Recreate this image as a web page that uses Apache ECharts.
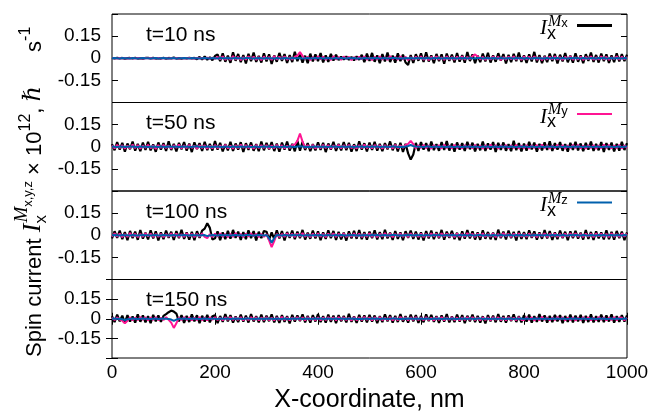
<!DOCTYPE html>
<html><head><meta charset="utf-8">
<script src="https://cdn.jsdelivr.net/npm/echarts@6/dist/echarts.min.js"></script>
<style>html,body{margin:0;padding:0;background:#fff}#c{width:655px;height:414px}</style>
</head><body><div id="c"></div>
<script>
// x-coordinate samples (nm)
const X = [0,5,10,15,20,25,30,35,40,45,50,55,60,65,70,75,80,85,90,95,
100,105,110,115,120,125,130,135,140,145,150,155,160,165,170,175,180,185,190,195,
200,205,210,215,220,225,230,235,240,245,250,255,260,265,270,275,280,285,290,295,
300,305,310,315,320,325,330,335,340,345,350,355,360,365,370,375,380,385,390,395,
400,405,410,415,420,425,430,435,440,445,450,455,460,465,470,475,480,485,490,495,
500,505,510,515,520,525,530,535,540,545,550,555,560,565,570,575,580,585,590,595,
600,605,610,615,620,625,630,635,640,645,650,655,660,665,670,675,680,685,690,695,
700,705,710,715,720,725,730,735,740,745,750,755,760,765,770,775,780,785,790,795,
800,805,810,815,820,825,830,835,840,845,850,855,860,865,870,875,880,885,890,895,
900,905,910,915,920,925,930,935,940,945,950,955,960,965,970,975,980,985,990,995,1000];

const panelLabels = ['t=10 ns','t=50 ns','t=100 ns','t=150 ns'];
const seriesNames = ['Mx','My','Mz'];
const legendSubs = ['x','y','z'];
const xTicks = [0,200,400,600,800,1000];
const yTicks = [-0.15,0,0.15];

// ---- t = 10 ns ----
const B1 = [.002,-.002,.003,-.001,.002,-.003,.001,.002,-.002,.003,-.002,.001,-.003,.002,.002,-.001,.003,-.002,.001,-.002,.003,-.003,.002,-.001,.004,-.002,.001,-.003,.002,-.002,.003,-.001,.002,
-.006,.009,-.008,.012,-.01,.007,-.013,.015,
.026,-.019,.034,-.024,.018,-.031,.041,-.017,.029,-.027,.022,-.035,.03,-.02,.038,-.025,.016,-.029,.033,-.021,.027,-.038,.019,-.024,.036,-.018,.028,-.032,.021,-.026,.044,-.02,.025,-.03,.017,-.034,.031,-.022,.026,-.019,.035,-.028,.02,-.025,.03,-.016,.024,
-.012,.01,-.008,.013,-.011,.009,-.014,.012,-.01,
.023,-.027,.031,-.018,.036,-.024,.02,-.033,.028,-.021,.039,-.026,.017,-.03,.034,-.019,.025,-.029,-.045,.022,
-.031,.027,-.017,.033,-.025,.04,-.022,.019,-.034,.029,-.02,.026,-.037,.032,-.018,.024,-.028,.035,-.023,.021,
-.03,.042,-.019,.027,-.033,.018,-.026,.031,-.021,.037,-.029,.02,-.024,.034,-.016,.028,-.035,.023,-.027,.03,
-.02,.038,-.025,.019,-.031,.026,-.022,.043,-.028,.021,-.033,.017,-.026,.032,-.019,.029,-.036,.024,-.021,.035,
-.027,.018,-.03,.033,-.024,.02,-.034,.027,-.018,.039,-.025,.022,-.029,.031,-.02,.026,-.032,.019,-.027,.034,
-.022,.028,-.019,.024];
const P1 = [.001,0,-.001,.001,0,.001,-.001,0,.001,-.001,.001,0,-.001,.001,0,.001,-.001,0,.001,-.001,.001,0,-.001,.001,0,.001,-.001,0,.001,-.001,.001,0,-.001,.001,0,.002,-.002,.003,-.003,.004,-.004,
.009,-.007,.012,-.01,.006,-.011,.014,-.008,.01,-.012,.007,-.009,.013,-.006,.011,-.01,.008,-.013,.012,-.007,.009,-.011,.015,-.008,.01,-.006,.012,-.01,.007,-.009,.011,.018,
.042,
.016,-.006,.01,-.012,.008,-.009,.013,-.007,.011,-.01,.006,-.012,.014,-.008,.009,-.011,.012,-.006,.01,-.013,
.008,-.009,.011,-.007,.013,-.01,.006,-.012,.01,-.008,.012,-.009,.007,-.011,.014,-.006,.009,-.01,.012,-.008,
.01,-.013,.007,-.009,.011,-.006,.013,-.01,.008,-.012,.01,-.007,.012,-.009,.006,-.011,.013,-.008,.009,-.01,
.011,-.007,.012,-.009,.008,-.006,.014,
.026,
.012,-.008,.01,-.011,.007,-.009,.013,-.006,.01,-.012,.008,-.01,.011,-.007,.012,-.009,.006,-.011,.013,-.008,
.01,-.006,.012,-.01,.007,-.012,.009,-.008,.011,-.007,.013,-.009,.008,-.011,.01,-.006,.012,-.01,.007,-.008,
.011,-.012,.009,-.007,.013,-.01,.006,-.009,.012,-.008,.01,-.011,.007,-.006,.012,-.009,.01,-.007,.008];
const Z1 = [0,.001,0,-.001,.001,0,0,-.001,.001,0,-.001,0,.001,0,0,-.001,0,.001,-.001,0,
.001,0,-.001,0,.001,-.001,0,0,.001,0,-.001,.001,0,0,-.001,0,.001,0,-.001,.001,
0,-.001,.001,0,0,.001,-.002,0,.001,0,0,-.001,.001,.002,0,-.001,0,.001,0,-.001,
.001,0,0,-.001,.002,0,-.001,.001,0,-.002,.001,0,0,.001,-.001,0,.002,-.001,0,.001,
0,.002,-.001,0,.001,-.001,0,.002,-.002,.001,0,-.001,.001,0,.002,-.001,0,-.002,.001,0,
-.001,.001,0,.002,-.001,0,.001,-.002,0,.001,.002,-.001,0,-.001,.001,0,.002,-.001,.001,0,
.001,-.001,.002,0,-.002,.001,0,.001,-.001,0,.002,-.001,.001,0,-.002,.001,0,.001,-.001,.002,
0,-.001,.001,.002,-.001,0,.001,-.002,.001,0,-.001,.002,0,-.001,.001,0,-.002,.001,0,.001,
-.001,.002,0,-.001,.001,0,.002,-.001,0,.001,-.002,.001,0,.001,-.001,.002,0,-.001,.001,0,
.001,0,-.001,.002,0,-.001,.001,0,-.002,.001,0,.001,-.001,0,.002,-.001,.001,0,-.001,.001,0];

// ---- t = 50 ns ----
const B2 = [.018,-.024,.031,-.02,.027,-.033,.022,-.017,.035,-.026,.019,-.03,.028,-.021,.033,-.025,.016,-.034,.029,-.019,
.024,-.028,.037,-.022,.02,-.031,.026,-.018,.032,-.027,.021,-.036,.03,-.016,.025,-.029,.034,-.023,.019,-.026,
.038,-.02,.027,-.032,.018,-.025,.033,-.028,.022,-.019,.031,-.035,.024,-.021,.029,-.027,.017,-.03,.036,-.024,
.026,-.018,.032,-.029,.021,-.034,.028,-.02,.035,-.026,.019,-.031,.041,-.027,.033,-.022,.024,-.03,.018,-.025,
.03,-.021,.027,-.036,.022,-.019,.034,-.028,.02,-.025,.031,-.023,.026,-.033,.017,-.029,.037,-.02,.024,-.031,
.028,-.022,.033,-.026,.019,-.03,.025,-.018,.036,-.024,.021,-.032,.027,-.035,.02,-.045,-.087,-.052,.026,-.029,
.032,-.019,.024,-.03,.035,-.023,.018,-.027,.031,-.021,.038,-.026,.022,-.033,.029,-.02,.025,-.028,.034,-.017,
.027,-.031,.02,-.024,.036,-.028,.023,-.019,.032,-.035,.026,-.021,.029,-.027,.017,-.03,.04,-.023,.025,-.032,
.021,-.026,.034,-.018,.028,-.033,.019,-.025,.03,-.022,.037,-.029,.024,-.02,.031,-.027,.018,-.034,.026,-.021,
.033,-.025,.022,-.03,.027,-.019,.035,-.028,.02,-.024,.032,-.036,.025,-.021,.028,-.031,.019,-.026,.034,-.022,.024];
const P2 = [.009,-.011,.013,-.008,.01,-.012,.007,-.01,.014,-.009,.011,-.013,.008,-.007,.012,-.01,.009,-.014,.011,-.008,
.013,-.009,.008,-.012,.01,-.007,.014,-.011,.009,-.01,.012,-.008,.007,-.013,.011,-.009,.01,-.012,.008,-.011,
.012,-.01,.009,-.008,.013,-.011,.007,-.012,.01,-.009,.014,-.007,.011,-.01,.008,-.013,.012,-.009,.01,-.008,
.011,-.012,.009,-.01,.013,-.008,.01,-.011,.007,-.009,.012,.015,.04,.09,.035,-.01,.011,-.009,.013,-.012,
.008,-.01,.012,-.009,.011,-.013,.009,-.007,.013,-.011,.01,-.008,.012,-.01,.007,-.012,.011,-.009,.014,-.01,
.009,-.011,.012,-.008,.01,-.013,.011,-.009,.008,-.012,.013,-.01,.009,-.007,.012,.02,.04,.018,-.011,.01,
-.008,.012,-.01,.009,-.013,.011,-.007,.01,-.012,.014,-.009,.008,-.011,.013,-.01,.009,-.012,.011,-.008,.01,
-.011,.013,-.009,.008,-.012,.01,-.01,.014,-.008,.011,-.013,.009,-.007,.012,-.011,.01,-.009,.013,-.012,.008,
-.01,.011,-.013,.009,-.008,.012,-.011,.014,-.009,.01,-.012,.008,-.01,.013,-.007,.011,-.012,.009,-.01,.012,
-.009,.013,-.011,.008,-.012,.01,-.008,.011,-.013,.009,-.01,.014,-.009,.012,-.011,.008,-.01,.013,-.012,.009,-.008];
const Z2 = [.001,0,-.001,0,.001,-.001,0,0,.001,0,-.001,.001,0,0,-.001,0,.001,0,-.001,.001,
0,-.001,.001,0,0,.001,-.002,0,.001,0,0,-.001,.001,.002,0,-.001,0,.001,0,-.001,
.001,0,0,-.001,.002,0,-.001,.001,0,-.002,.001,0,0,.001,-.001,0,.002,-.001,0,.001,
0,.002,-.001,0,.001,-.001,0,.002,-.002,.001,0,-.001,.001,.004,.002,-.001,0,-.002,.001,0,
.001,-.001,.002,0,-.002,.001,0,.001,-.001,0,.002,-.001,.001,0,-.002,.001,0,.001,-.001,.002,
-.001,.001,0,.002,-.001,0,.001,-.002,0,.001,.002,-.001,0,-.001,.001,.005,.012,.004,.001,0,
0,-.001,.001,.002,-.001,0,.001,-.002,.001,0,-.001,.002,0,-.001,.001,0,-.002,.001,0,.001,
-.001,.002,0,-.001,.001,0,.002,-.001,0,.001,-.002,.001,0,.001,-.001,.002,0,-.001,.001,0,
.001,0,-.001,.002,0,-.001,.001,0,-.002,.001,0,.001,-.001,0,.002,-.001,.001,0,-.001,.001,
0,.001,0,-.001,.001,0,0,-.001,.001,0,-.001,0,.001,0,0,-.001,0,.001,-.001,0,.001];

// ---- t = 100 ns ----
const B3 = [-.022,.027,-.018,.032,-.026,.021,-.034,.029,-.019,.025,-.031,.036,-.023,.018,-.028,.033,-.021,.026,-.035,.02,
-.027,.031,-.017,.024,-.032,.028,-.02,.037,-.025,.019,-.03,.023,-.034,.027,-.018,.032,.045,.082,.05,-.029,
-.021,.026,-.033,.019,-.027,.03,-.023,.036,-.018,.025,-.031,.022,-.026,.034,-.02,.028,-.035,.024,-.019,.029,
.024,-.03,.019,-.026,.033,-.021,.028,-.035,.022,-.018,.031,-.027,.025,-.02,.036,-.029,.017,-.024,.032,-.022,
.027,-.033,.02,-.025,.034,-.019,.029,-.031,.023,-.028,.018,-.036,.026,-.021,.03,-.024,.035,-.027,.021,-.03,
.025,-.019,.033,-.028,.022,-.026,.037,-.021,.018,-.032,.029,-.024,.02,-.034,.027,-.018,.031,-.025,.024,-.029,
.019,-.035,.028,-.022,.032,-.027,.021,-.02,.036,-.03,.024,-.018,.03,-.026,.017,-.033,.027,-.023,.035,-.021,
.026,-.029,.02,-.031,.034,-.024,.022,-.027,.018,-.032,.038,-.02,.025,-.028,.031,-.019,.023,-.035,.029,-.025,
.021,-.027,.033,-.018,.026,-.03,.019,-.024,.035,-.022,.028,-.031,.02,-.026,.032,-.02,.024,-.034,.027,-.019,
.03,-.023,.018,-.029,.036,-.025,.022,-.032,.027,-.021,.019,-.028,.034,-.026,.023,-.03,.029,-.02,.025,-.033,.02];
const P3 = [-.01,.012,-.009,.011,-.013,.008,-.011,.014,-.008,.01,-.012,.009,-.01,.013,-.007,.011,-.012,.009,-.011,.01,
-.013,.008,-.01,.012,-.009,.011,-.012,.007,-.011,.013,-.008,.01,-.013,.009,-.01,.012,-.011,-.02,.008,-.012,
.011,-.009,.013,-.01,.008,-.012,.01,-.011,.014,-.008,.009,-.013,.011,-.01,.012,-.007,.01,-.012,.009,-.011,
.008,-.035,-.08,-.04,.01,-.012,.009,-.011,.013,-.008,.01,-.012,.011,-.009,.014,-.01,.008,-.013,.011,-.009,
.012,-.01,.009,-.013,.011,-.008,.013,-.011,.01,-.009,.012,-.012,.008,-.01,.013,-.009,.011,-.012,.009,-.01,
.013,-.011,.008,-.012,.01,-.009,.014,-.01,.011,-.013,.009,-.008,.012,-.011,.01,-.012,.013,-.009,.008,-.011,
.011,-.013,.009,-.01,.012,-.008,.01,-.012,.013,-.009,.011,-.01,.008,-.013,.012,-.011,.009,-.01,.014,-.008,
.01,-.012,.011,-.009,.013,-.011,.008,-.01,.012,-.013,.009,-.011,.014,-.008,.01,-.012,.011,-.009,.013,-.01,
.009,-.011,.012,-.01,.008,-.013,.011,-.009,.013,-.012,.01,-.008,.012,-.011,.009,-.013,.011,-.01,.012,-.009,
.013,-.01,.009,-.012,.011,-.009,.01,-.013,.012,-.008,.011,-.011,.009,-.012,.013,-.01,.008,-.011,.012,-.009,.01];
const Z3 = [0,.001,0,-.001,.001,0,0,-.001,.001,0,-.001,0,.001,0,0,-.001,0,.001,-.001,0,
.001,0,-.001,0,.001,-.001,0,0,.001,0,-.001,.001,0,0,-.001,0,.001,-.006,-.001,.001,
0,-.001,.001,0,0,.001,-.002,0,.001,0,0,-.001,.001,.002,0,-.001,0,.001,0,-.001,
.001,-.02,-.05,-.02,.002,0,-.001,.001,0,-.002,.001,0,0,.001,-.001,0,.002,-.001,0,.001,
0,.002,-.001,0,.001,-.001,0,.002,-.002,.001,0,-.001,.001,0,.002,-.001,0,-.002,.001,0,
-.001,.001,0,.002,-.001,0,.001,-.002,0,.001,.002,-.001,0,-.001,.001,0,.002,-.001,.001,0,
.001,-.001,.002,0,-.002,.001,0,.001,-.001,0,.002,-.001,.001,0,-.002,.001,0,.001,-.001,.002,
0,-.001,.001,.002,-.001,0,.001,-.002,.001,0,-.001,.002,0,-.001,.001,0,-.002,.001,0,.001,
-.001,.002,0,-.001,.001,0,.002,-.001,0,.001,-.002,.001,0,.001,-.001,.002,0,-.001,.001,0,
.001,0,-.001,.002,0,-.001,.001,0,-.002,.001,0,.001,-.001,0,.002,-.001,.001,0,-.001,.001,0];

// ---- t = 150 ns ----
const B4 = [.02,-.026,.031,-.019,.024,-.032,.027,-.021,.018,-.03,.034,-.023,.025,-.028,.019,-.033,.029,-.02,.026,-.024,
.022,.035,.05,.062,.055,.04,-.02,.028,-.031,.021,-.025,.033,-.019,.027,-.034,.023,-.022,.03,-.028,.019,
.026,-.033,.021,-.024,.035,-.02,.028,-.03,.017,-.026,.032,-.022,.024,-.029,.036,-.021,.019,-.027,.031,-.025,
.023,-.019,.034,-.028,.021,-.031,.027,-.024,.02,-.035,.03,-.022,.025,-.018,.033,-.027,.022,-.03,.028,-.021,
.035,-.026,.019,-.029,.031,-.023,.024,-.033,.027,-.02,.021,-.028,.037,-.024,.018,-.031,.029,-.022,.026,-.027,
.03,-.021,.025,-.034,.02,-.026,.033,-.019,.028,-.03,.022,-.025,.036,-.023,.019,-.029,.031,-.02,.027,-.032,
.021,-.027,.034,-.018,.029,-.024,.02,-.031,.026,-.022,.035,-.028,.018,-.025,.032,-.021,.027,-.033,.023,-.019,
.031,-.026,.022,-.029,.019,-.035,.028,-.02,.024,-.027,.036,-.023,.021,-.03,.026,-.018,.033,-.025,.02,-.028,
.027,-.022,.032,-.03,.019,-.024,.035,-.021,.025,-.029,.022,-.026,.03,-.019,.028,-.034,.021,-.023,.031,-.027,
.024,-.02,.029,-.032,.022,-.025,.034,-.028,.019,-.023,.031,-.026,.025,-.021,.033,-.029,.02,-.024,.028,-.022,.026];
const P4 = [.008,-.01,.009,-.006,-.015,-.035,-.015,.011,-.012,.009,-.01,.013,-.008,.011,-.012,.01,-.009,.012,-.011,.008,
-.01,.012,-.008,-.03,-.07,-.035,.01,-.011,.013,-.009,.01,-.012,.008,-.01,.013,-.011,.009,-.012,.011,-.008,
.012,-.01,.009,-.013,.011,-.008,.013,-.011,.01,-.009,.012,-.012,.008,-.01,.013,-.009,.011,-.012,.009,-.01,
.013,-.011,.008,-.012,.01,-.009,.014,-.01,.011,-.013,.009,-.008,.012,-.011,.01,-.012,.013,-.009,.008,-.011,
.011,-.013,.009,-.01,.012,-.008,.01,-.012,.013,-.009,.011,-.01,.008,-.013,.012,-.011,.009,-.01,.014,-.008,
.01,-.012,.011,-.009,.013,-.011,.008,-.01,.012,-.013,.009,-.011,.014,-.008,.01,-.012,.011,-.009,.013,-.01,
.009,-.011,.012,-.01,.008,-.013,.011,-.009,.013,-.012,.01,-.008,.012,-.011,.009,-.013,.011,-.01,.012,-.009,
.013,-.01,.009,-.012,.011,-.009,.01,-.013,.012,-.008,.011,-.011,.009,-.012,.013,-.01,.008,-.011,.012,-.009,
-.01,.012,-.009,.011,-.013,.008,-.011,.014,-.008,.01,-.012,.009,-.01,.013,-.007,.011,-.012,.009,-.011,.01,
-.013,.008,-.01,.012,-.009,.011,-.012,.007,-.011,.013,-.008,.01,-.013,.009,-.01,.012,-.011,.009,.008,-.012,.009];
const Z4 = [0,.001,0,-.001,-.004,-.01,-.003,-.001,.001,0,-.001,0,.001,0,0,-.001,0,.001,-.001,0,
.001,0,-.001,-.006,-.016,-.006,0,0,.001,0,-.001,.001,0,0,-.001,0,.001,0,-.001,.001,
0,-.001,.001,0,0,.001,-.002,0,.001,0,0,-.001,.001,.002,0,-.001,0,.001,0,-.001,
.001,0,0,-.001,.002,0,-.001,.001,0,-.002,.001,0,0,.001,-.001,0,.002,-.001,0,.001,
0,.002,-.001,0,.001,-.001,0,.002,-.002,.001,0,-.001,.001,0,.002,-.001,0,-.002,.001,0,
-.001,.001,0,.002,-.001,0,.001,-.002,0,.001,.002,-.001,0,-.001,.001,0,.002,-.001,.001,0,
.001,-.001,.002,0,-.002,.001,0,.001,-.001,0,.002,-.001,.001,0,-.002,.001,0,.001,-.001,.002,
0,-.001,.001,.002,-.001,0,.001,-.002,.001,0,-.001,.002,0,-.001,.001,0,-.002,.001,0,.001,
-.001,.002,0,-.001,.001,0,.002,-.001,0,.001,-.002,.001,0,.001,-.001,.002,0,-.001,.001,0,
.001,0,-.001,.002,0,-.001,.001,0,-.002,.001,0,.001,-.001,0,.002,-.001,.001,0,-.001,.001,0];

const panels = [[B1,P1,Z1],[B2,P2,Z2],[B3,P3,Z3],[B4,P4,Z4]];

// ---------- styling / layout ----------
const COLORS = ['#000000','#ff1493','#0060ad'];
const LW = [2.2,2,2];
const SANS = '"Liberation Sans", Arial, sans-serif';
const SERIF = '"Liberation Serif", "DejaVu Serif", serif';
const GL = 112, GR = 28, GT = 14, GH = 88.5;

const mctx = document.createElement('canvas').getContext('2d');
function fontStr(p){ return (p.it ? 'italic ' : '') + p.s + 'px ' + (p.fam || SANS); }
function buildText(pieces){
  let cur = 0, prevStart = 0, maxEnd = 0; const out = [];
  pieces.forEach(p => {
    const f = fontStr(p); mctx.font = f; const w = mctx.measureText(p.t).width;
    const x0 = (p.stack ? prevStart : (p.afterAll ? maxEnd : cur)) + (p.gap || 0);
    out.push({type:'text', x:x0, y:(p.dy||0) + 0.21*p.s, silent:true,
      style:{text:p.t, font:f, fill:'#000', align:'left', verticalAlign:'bottom'}});
    prevStart = x0; cur = x0 + w; maxEnd = Math.max(maxEnd, cur);
  });
  return out;
}

const grid = [], xAxis = [], yAxis = [], series = [], graphic = [];
function yFmt(v){ if (Math.abs(v) < 1e-9) return '0'; if (Math.abs(v) > 0.2) return ''; return v.toFixed(2); }

for (let i = 0; i < 4; i++) {
  const last = i === 3;
  grid.push({left:GL, right:GR, top:GT + i*GH, height:GH, show:true, borderColor:'#000', borderWidth:1, backgroundColor:'transparent'});
  xAxis.push({gridIndex:i, type:'value', min:xTicks[0], max:xTicks[xTicks.length-1], interval:xTicks[1]-xTicks[0], position:'bottom',
    axisLine:{show:false}, splitLine:{show:false},
    axisTick:{show:last, inside:true, length:6, lineStyle:{color:'#000', width:1}},
    axisLabel:{show:last, fontFamily:SANS, fontSize:19, color:'#000', margin:5, formatter:v => String(v)},
    name: last ? 'X-coordinate, nm' : '', nameLocation:'middle', nameGap:30,
    nameTextStyle:{fontFamily:SANS, fontSize:25, color:'#000'}});
  yAxis.push({gridIndex:i, type:'value', min:-0.3, max:0.3, interval:0.15, position:'left',
    axisLine:{show:false}, splitLine:{show:false},
    axisTick:{show:true, inside:true, length:6, lineStyle:{color:'#000', width:1}},
    axisLabel:{show:true, fontFamily:SANS, fontSize:19, color:'#000', margin:11, formatter:yFmt}});
  yAxis.push({gridIndex:i, type:'value', min:-0.3, max:0.3, interval:0.15, position:'right',
    axisLine:{show:false}, splitLine:{show:false},
    axisTick:{show:true, inside:true, length:6, lineStyle:{color:'#000', width:1}},
    axisLabel:{show:false}});
  panels[i].forEach((arr, k) => {
    series.push({type:'line', name:seriesNames[k], xAxisIndex:i, yAxisIndex:2*i,
      data: X.map((x, j) => [x, arr[j]]), showSymbol:false, symbol:'none', silent:true,
      lineStyle:{color:COLORS[k], width:LW[k]}, z:2+k, animation:false});
  });
  graphic.push({type:'text', x:146, y:GT + i*GH + 21, silent:true,
    style:{text:panelLabels[i], font:'21px ' + SANS, fill:'#000', align:'left', verticalAlign:'middle'}});
}
// mirrored x ticks on top of last panel
xAxis.push({gridIndex:3, type:'value', min:0, max:1000, interval:200, position:'top',
  axisLine:{show:false}, splitLine:{show:false},
  axisTick:{show:true, inside:true, length:6, lineStyle:{color:'#000', width:1}}, axisLabel:{show:false}});

// legend entries (first three panels)
const LEGW = [3,2,2];
for (let k = 0; k < 3; k++) {
  graphic.push({type:'group', x:540, y:35 + k*GH, children: buildText([
    {t:'I', s:21, it:1, fam:SERIF},
    {t:'x', s:18, dy:4},
    {t:'M', s:16, it:1, fam:SERIF, dy:-9, stack:1, gap:1},
    {t:legendSubs[k], s:13, dy:-8}
  ])});
  graphic.push({type:'line', silent:true, shape:{x1:577, y1:25.5 + k*GH, x2:612, y2:25.5 + k*GH},
    style:{stroke:COLORS[k], lineWidth:LEGW[k]}});
}

// rotated y-axis title
graphic.push({type:'group', x:41, y:357, rotation:Math.PI/2, children: buildText([
  {t:'Spin current ', s:22},
  {t:'I', s:26, it:1, fam:SERIF},
  {t:'x', s:17, dy:5},
  {t:'M', s:19, it:1, fam:SERIF, dy:-13, stack:1, gap:1},
  {t:'x,y,z', s:13, dy:-9},
  {t:' \u00d7 10', s:22, afterAll:1},
  {t:'12', s:16, dy:-11},
  {t:', ', s:22},
  {t:'\u210f', s:24, it:1, fam:'"DejaVu Serif", serif'},
  {t:' s', s:22, gap:28},
  {t:'-1', s:16, dy:-11}
])});

const chart = echarts.init(document.getElementById('c'), null, {renderer:'canvas'});
chart.setOption({animation:false, backgroundColor:'#fff', grid, xAxis, yAxis, series, graphic});
</script>
</body></html>
